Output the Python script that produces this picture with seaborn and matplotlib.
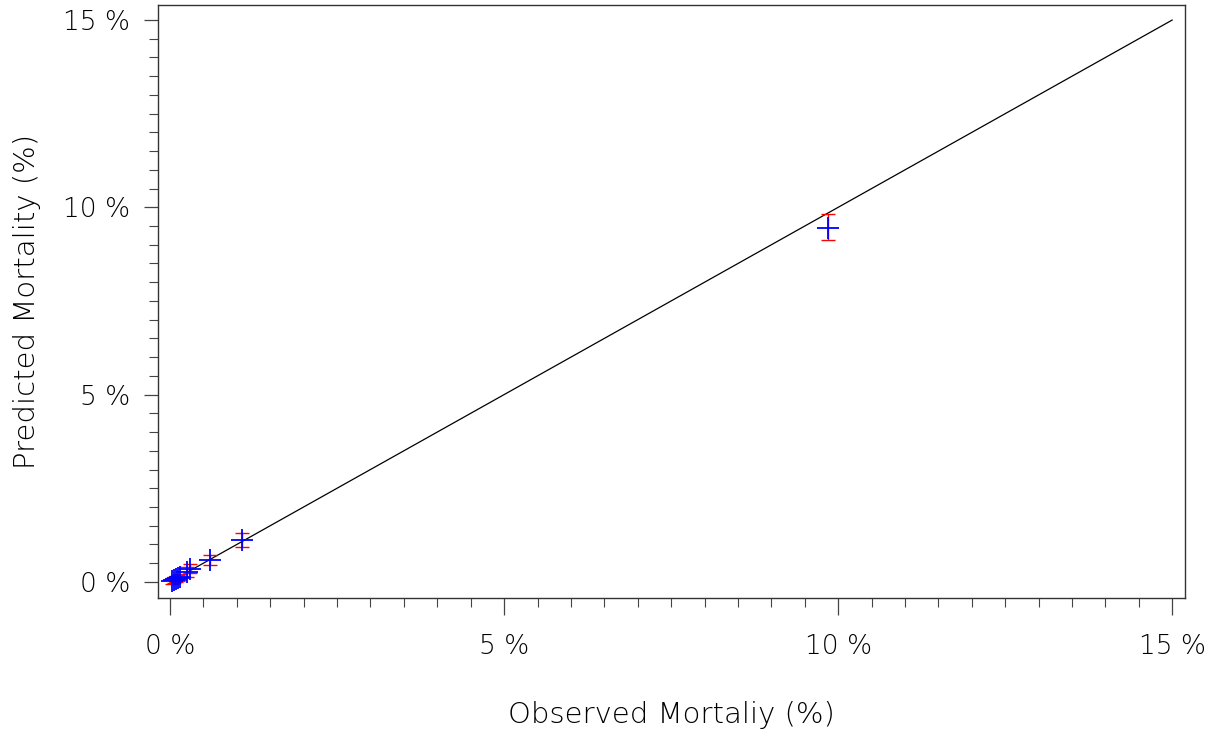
import matplotlib
matplotlib.use("Agg")
import matplotlib.pyplot as plt
from matplotlib.ticker import MultipleLocator, FuncFormatter
import numpy as np
import pandas as pd
import seaborn as sns

# Observed vs predicted mortality (%) with prediction interval
observed = [0.03, 0.06, 0.09, 0.12, 0.15, 0.25, 0.30, 0.60, 1.08, 9.85]
predicted = [0.03, 0.05, 0.08, 0.10, 0.13, 0.27, 0.35, 0.59, 1.12, 9.45]
pred_lower = [-0.05, -0.03, 0.00, 0.03, 0.06, 0.14, 0.24, 0.45, 0.93, 9.13]
pred_upper = [0.10, 0.12, 0.15, 0.18, 0.21, 0.41, 0.47, 0.72, 1.31, 9.82]
ref_line = [0, 15]

x_label = "Observed Mortaliy (%)"
y_label = "Predicted Mortality (%)"

sns.set_theme(style="white")
plt.rcParams["font.family"] = ["DejaVu Sans"]
plt.rcParams["text.color"] = "black"
plt.rcParams["axes.labelcolor"] = "black"
plt.rcParams["xtick.color"] = "black"
plt.rcParams["ytick.color"] = "black"

df = pd.DataFrame({"observed": observed, "predicted": predicted,
                   "lower": pred_lower, "upper": pred_upper})

fig = plt.figure(figsize=(12.17, 7.34), dpi=100)
ax = fig.add_axes([158 / 1217, 1 - 598 / 734, (1185 - 158) / 1217, (598 - 5) / 734])

# identity line
sns.lineplot(x=ref_line, y=ref_line, ax=ax, color="black", linewidth=0.9)

# prediction intervals
yerr = np.vstack([df["predicted"] - df["lower"], df["upper"] - df["predicted"]])
ax.errorbar(df["observed"], df["predicted"], yerr=yerr, fmt="none",
            ecolor="red", elinewidth=1.0, capsize=5, capthick=1.0, zorder=3)

# point estimates
sns.scatterplot(data=df, x="observed", y="predicted", ax=ax, marker="+",
                s=230, color="blue", linewidth=1.3, zorder=4)

ax.set_xlim(-0.18, 15.19)
ax.set_ylim(-0.43, 15.4)

pct = FuncFormatter(lambda v, _: f"{v:g} %")
ax.xaxis.set_major_locator(MultipleLocator(5))
ax.xaxis.set_minor_locator(MultipleLocator(0.5))
ax.yaxis.set_major_locator(MultipleLocator(5))
ax.yaxis.set_minor_locator(MultipleLocator(0.5))
ax.xaxis.set_major_formatter(pct)
ax.yaxis.set_major_formatter(pct)

ax.tick_params(axis="x", which="major", direction="out", length=12, width=0.9,
               color="#444444", labelcolor="black", pad=14, labelsize=19, bottom=True)
ax.tick_params(axis="x", which="minor", direction="out", length=6.5, width=0.8,
               color="#444444", bottom=True)
ax.tick_params(axis="y", which="major", direction="out", length=10, width=0.9,
               color="#444444", labelcolor="black", pad=10, labelsize=19, left=True)
ax.tick_params(axis="y", which="minor", direction="out", length=6.5, width=0.8,
               color="#444444", left=True)
for lab in ax.get_xticklabels() + ax.get_yticklabels():
    lab.set_fontweight("light")

for spine in ax.spines.values():
    spine.set_color("#333333")
    spine.set_linewidth(1.0)

ax.set_xlabel(x_label, fontsize=21, fontweight="light", labelpad=30, color="black")
ax.set_ylabel(y_label, fontsize=21, fontweight="light", labelpad=16, color="black")

fig.savefig("out.png", dpi=100, facecolor="white")
